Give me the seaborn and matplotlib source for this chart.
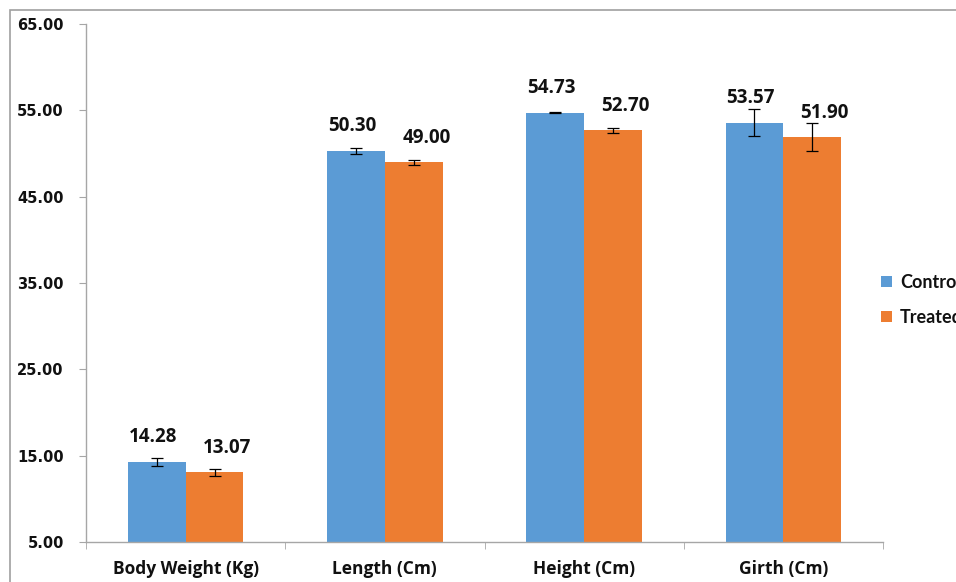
import matplotlib
matplotlib.use("Agg")
import matplotlib.pyplot as plt
import seaborn as sns
import pandas as pd
from matplotlib.patches import Rectangle
from matplotlib.ticker import FixedLocator, FormatStrFormatter

categories = ["Body Weight (Kg)", "Length (Cm)", "Height (Cm)", "Girth (Cm)"]
groups = ["Control", "Treated"]
control_vals = [14.28, 50.30, 54.73, 53.57]
treated_vals = [13.07, 49.00, 52.70, 51.90]
control_err = [0.5, 0.3, 0.05, 1.55]
treated_err = [0.4, 0.3, 0.3, 1.6]
colors = ["#5B9BD5", "#ED7D31"]
yticks = [5, 15, 25, 35, 45, 55, 65]

df = pd.DataFrame({
    "Parameter": categories * 2,
    "Group": [groups[0]] * 4 + [groups[1]] * 4,
    "Value": control_vals + treated_vals,
})

sns.set_style("white")
fig = plt.figure(figsize=(9.56, 5.82), dpi=100)
ax = fig.add_axes([86 / 956, 1 - 542 / 582, (883 - 86) / 956, (542 - 24) / 582])

sns.barplot(data=df, x="Parameter", y="Value", hue="Group", order=categories,
            hue_order=groups, palette=colors, width=0.58, errorbar=None,
            saturation=1, ax=ax, legend=True, edgecolor="none")

errs = [control_err, treated_err]
vals = [control_vals, treated_vals]
label_dx = [-3, 9]
bars = [p for p in ax.patches if p.get_width() > 0 and p.get_height() > 0]
bars.sort(key=lambda p: p.get_x())
for k, bar in enumerate(bars[:8]):
    ci, gi = divmod(k, 2)
    xc = bar.get_x() + bar.get_width() / 2
    yv = bar.get_height()
    ax.errorbar(xc, yv, yerr=errs[gi][ci], fmt="none", ecolor="black",
                elinewidth=0.9, capsize=4, capthick=0.9, zorder=5)
    ax.annotate(f"{vals[gi][ci]:.2f}", (xc, yv), xytext=(label_dx[gi], 10.5),
                textcoords="offset points", ha="center", va="bottom",
                fontsize=13.5, fontweight="bold", family="Open Sans", color="#111111")

ax.set_ylim(5, 65)
ax.set_xlim(-0.5, 3.5)
ax.yaxis.set_major_locator(FixedLocator(yticks))
ax.yaxis.set_major_formatter(FormatStrFormatter("%.2f"))
for lbl in ax.get_yticklabels():
    lbl.set_fontweight("bold")
    lbl.set_fontsize(10.5)
    lbl.set_family("DejaVu Sans")
    lbl.set_color("#111111")
for lbl in ax.get_xticklabels():
    lbl.set_fontweight("bold")
    lbl.set_fontsize(12.5)
    lbl.set_family("Open Sans")
    lbl.set_color("#111111")

ax.set_xlabel("")
ax.set_ylabel("")
for s in ["top", "right"]:
    ax.spines[s].set_visible(False)
for s in ["left", "bottom"]:
    ax.spines[s].set_color("#A6A6A6")
    ax.spines[s].set_linewidth(1)

ax.tick_params(axis="y", which="major", left=True, length=5, color="#A6A6A6", pad=11)
ax.tick_params(axis="x", which="major", bottom=False, length=0, pad=13)
ax.xaxis.set_minor_locator(FixedLocator([-0.5, 0.5, 1.5, 2.5, 3.5]))
ax.tick_params(axis="x", which="minor", bottom=True, length=5, color="#A6A6A6")

leg = ax.legend(loc="center left", bbox_to_anchor=(881 / 956, 1 - 300 / 582),
                bbox_transform=fig.transFigure, frameon=False, handlelength=0.6,
                handleheight=0.6, handletextpad=0.45, labelspacing=1.0,
                borderpad=0, borderaxespad=0,
                prop={"family": "Lato", "weight": "bold", "size": 13})
for t in leg.get_texts():
    t.set_color("#111111")

fig.patches.append(Rectangle((10 / 956, -0.2), 1.2, 1.2 - 10 / 582,
                             transform=fig.transFigure, fill=False,
                             edgecolor="#A0A0A0", linewidth=1.2))

fig.savefig("out.png", dpi=100)
